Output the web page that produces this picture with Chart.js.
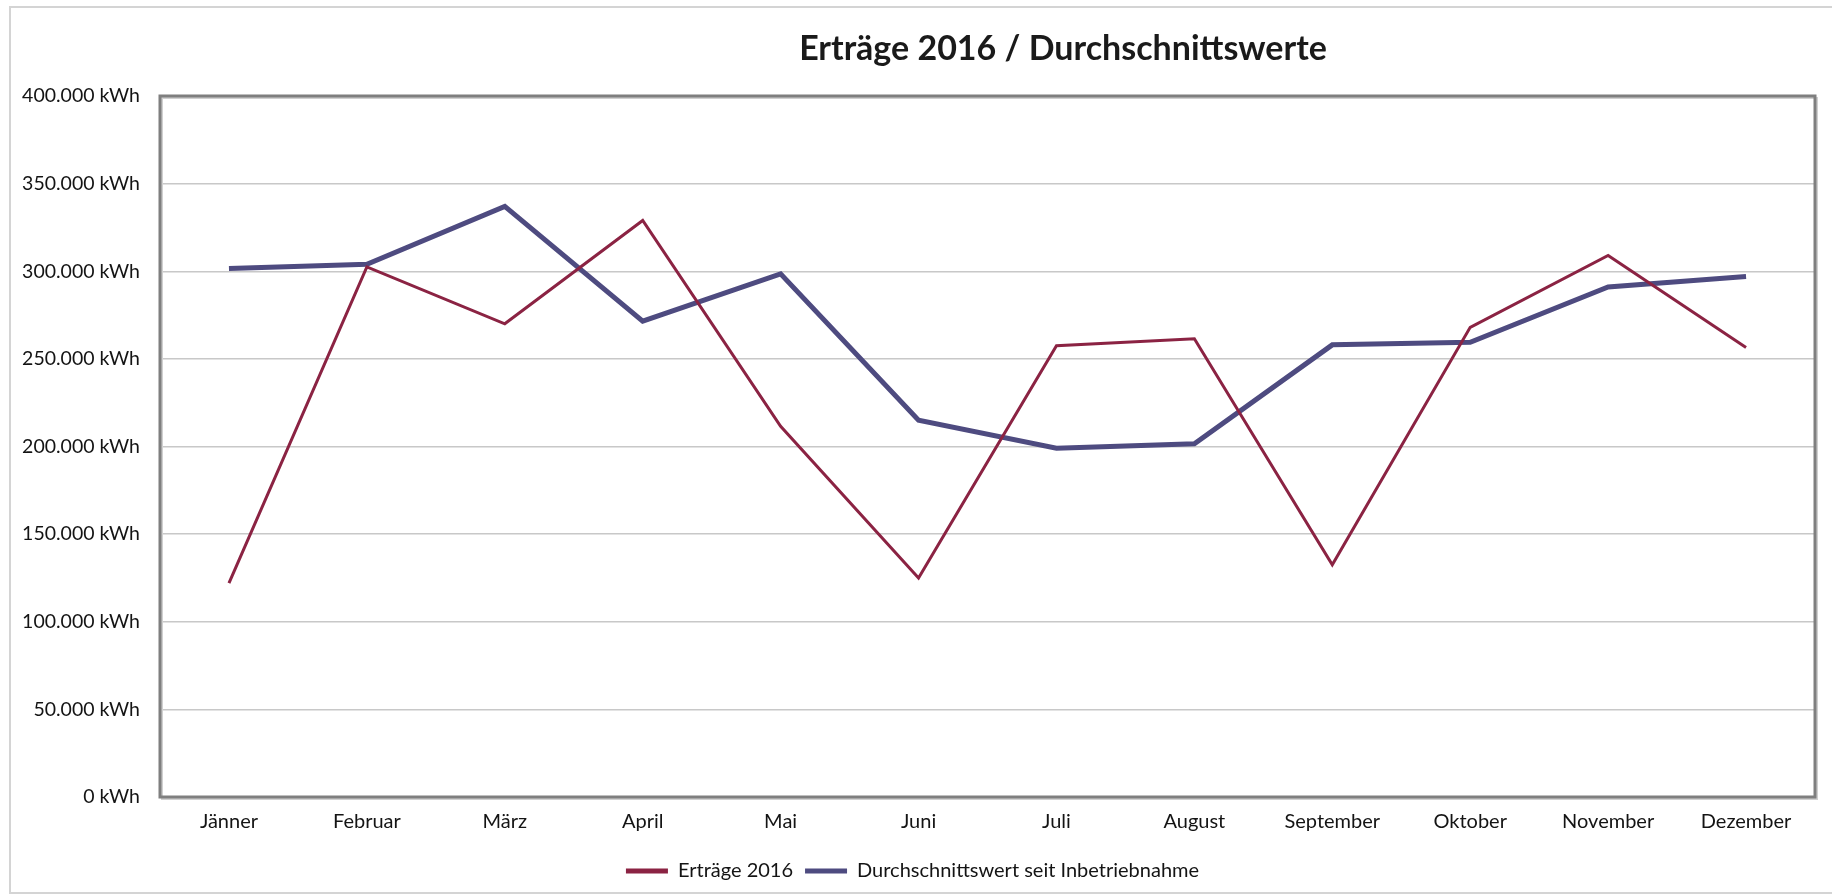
<!DOCTYPE html>
<html lang="de">
<head>
    <meta charset="UTF-8">
    <title>Erträge 2016 / Durchschnittswerte</title>
    <style>
        html, body {
            margin: 0;
            padding: 0;
            background: #fff;
        }
        .chart-box {
            position: relative;
            width: 1832px;
            height: 896px;
        }
    </style>
</head>
<body>
    <div class="chart-box">
        <canvas id="myChart"></canvas>
    </div>

    <script src="https://cdn.jsdelivr.net/npm/chart.js"></script>
    <script>
        var chartTitle = 'Erträge 2016 / Durchschnittswerte';

        var months = ['Jänner', 'Februar', 'März', 'April', 'Mai', 'Juni',
                      'Juli', 'August', 'September', 'Oktober', 'November', 'Dezember'];

        // kWh per month
        var ertraege2016 = [122000, 302500, 270000, 329000, 211500, 125000,
                            257500, 261500, 132500, 268000, 309000, 256500];
        var durchschnitt = [301500, 304000, 337000, 271500, 298500, 215000,
                            199000, 201500, 258000, 259500, 291000, 297000];

        var yTickValues = [0, 50000, 100000, 150000, 200000, 250000, 300000, 350000, 400000];

        var red = '#8b2343';
        var blue = '#4e4b80';
        var textColor = '#141414';
        var fontFamily = 'Lato, "Noto Sans", sans-serif';

        function formatKwh(v) {
            return String(v).replace(/\B(?=(\d{3})+(?!\d))/g, '.') + ' kWh';
        }

        // outer frame, plot border and the title
        var decoPlugin = {
            id: 'deco',
            beforeDraw: function(chart) {
                var ctx = chart.ctx;
                ctx.save();
                ctx.strokeStyle = '#d4d4d4';
                ctx.lineWidth = 2;
                ctx.strokeRect(10, 7, 1840, 886);
                ctx.restore();
            },
            beforeDatasetsDraw: function(chart) {
                var a = chart.chartArea;
                var ctx = chart.ctx;
                ctx.save();
                ctx.strokeStyle = '#d0d0d0';
                ctx.lineWidth = 2;
                ctx.strokeRect(a.left + 2, a.top + 2, a.right - a.left, a.bottom - a.top);
                ctx.strokeStyle = '#7f7f7f';
                ctx.lineWidth = 3;
                ctx.strokeRect(a.left, a.top, a.right - a.left, a.bottom - a.top);
                ctx.restore();
            },
            afterDraw: function(chart) {
                var ctx = chart.ctx;
                ctx.save();
                ctx.font = 'bold 34px ' + fontFamily;
                ctx.fillStyle = '#1a1a1a';
                ctx.textAlign = 'center';
                ctx.textBaseline = 'middle';
                ctx.fillText(chartTitle, 1063, 49);
                ctx.restore();
            }
        };

        var ctx = document.getElementById('myChart').getContext('2d');
        var myChart = new Chart(ctx, {
            type: 'line',
            data: {
                labels: months,
                datasets: [
                    {
                        label: 'Erträge 2016',
                        data: ertraege2016,
                        borderColor: red,
                        backgroundColor: red,
                        borderWidth: 3,
                        pointRadius: 0,
                        tension: 0
                    },
                    {
                        label: 'Durchschnittswert seit Inbetriebnahme',
                        data: durchschnitt,
                        borderColor: blue,
                        backgroundColor: blue,
                        borderWidth: 5,
                        pointRadius: 0,
                        tension: 0
                    }
                ]
            },
            options: {
                responsive: true,
                maintainAspectRatio: false,
                animation: false,
                layout: {
                    padding: { left: 10, right: 17, top: 96, bottom: 5 }
                },
                plugins: {
                    title: { display: false },
                    tooltip: { enabled: false },
                    legend: {
                        position: 'bottom',
                        labels: {
                            usePointStyle: true,
                            pointStyle: 'line',
                            pointStyleWidth: 42,
                            padding: 12,
                            color: textColor,
                            font: { family: fontFamily, size: 20 },
                            generateLabels: function(chart) {
                                var items = Chart.defaults.plugins.legend.labels.generateLabels(chart);
                                items.forEach(function(it) { it.lineWidth = 5; });
                                return items;
                            }
                        }
                    }
                },
                scales: {
                    x: {
                        offset: true,
                        grid: { display: false, drawTicks: false },
                        border: { display: false },
                        ticks: {
                            padding: 13,
                            color: textColor,
                            font: { family: fontFamily, size: 20 }
                        },
                        afterFit: function(scale) { scale.height = 52; }
                    },
                    y: {
                        min: 0,
                        max: 400000,
                        grid: { color: '#c8c8c8', lineWidth: 1.5, drawTicks: false },
                        border: { display: false },
                        afterBuildTicks: function(scale) {
                            scale.ticks = yTickValues.map(function(v) { return { value: v }; });
                        },
                        ticks: {
                            padding: 20,
                            color: textColor,
                            font: { family: fontFamily, size: 19.5 },
                            callback: function(value) { return formatKwh(value); }
                        },
                        afterFit: function(scale) { scale.width = 150; }
                    }
                }
            },
            plugins: [decoPlugin]
        });
    </script>
</body>
</html>
